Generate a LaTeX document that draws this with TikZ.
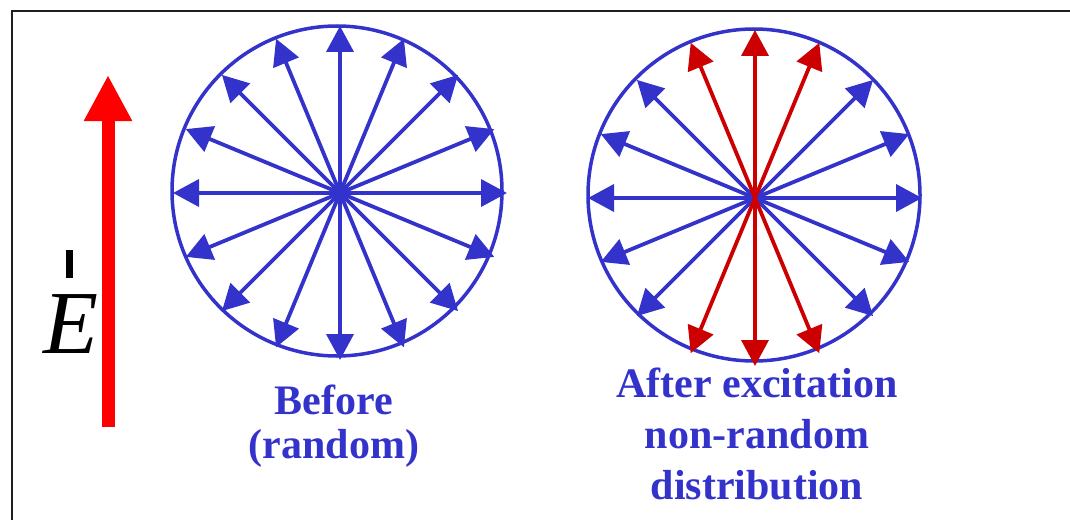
\documentclass[tikz,border=0pt]{standalone}
\usepackage{fontspec}
\setmainfont{Liberation Serif}
\usetikzlibrary{arrows.meta}
\definecolor{Blue}{RGB}{51,51,204}
\definecolor{Crimson}{RGB}{204,0,0}
\definecolor{Red}{RGB}{255,0,0}
\definecolor{Frame}{RGB}{30,30,30}
\begin{document}
\begin{tikzpicture}[x=1pt,y=-1pt,
 ring/.style={draw=Blue,line width=3.5pt},
 v/.style={-{Triangle[length=26pt,width=27pt]},line width=3.8pt,Blue},
 rv/.style={v,Crimson},
 lbl/.style={text=Blue,align=center,inner sep=0pt,anchor=base},
 field/.style={-{Triangle[length=46pt,width=45pt]},line width=13pt,Red}]
\useasboundingbox (0,0) rectangle (1070,519);
% frame
\draw[Frame,line width=2pt] (12,530) -- (12,11) -- (1080,11);
% field arrow and label
\coordinate (eb) at (108,427);
\coordinate (et) at (108,75);
\draw[field] (eb) -- (et);
\node[inner sep=0pt,anchor=base west,font=\fontsize{90}{90}\selectfont\itshape] (E) at (43,353) {E};
\fill (66,250) rectangle (73,278);
% before
\node[ring,circle,minimum size=330pt,inner sep=0pt] (c1) at (337,191) {};
\coordinate (o1) at (340,193);
\foreach \a in {0,22.5,...,337.5}
  \draw[v] (o1) -- ++(\a:167);
\node[lbl,font=\fontsize{42}{43.5}\selectfont\bfseries] (t1) at (334,458) {Before\\(random)};
% after
\node[ring,circle,minimum size=332pt,inner sep=0pt] (c2) at (754,195) {};
\coordinate (o2) at (755,198);
\foreach \a in {0,22.5,45,135,157.5,180,202.5,225,315,337.5}
  \draw[v] (o2) -- ++(\a:167);
\foreach \a in {67.5,90,112.5,247.5,270,292.5}
  \draw[rv] (o2) -- ++(\a:168);
\node[lbl,font=\fontsize{42}{51}\selectfont\bfseries] (t2) at (757,499) {After excitation\\non-random\\distribution};
\end{tikzpicture}
\end{document}
